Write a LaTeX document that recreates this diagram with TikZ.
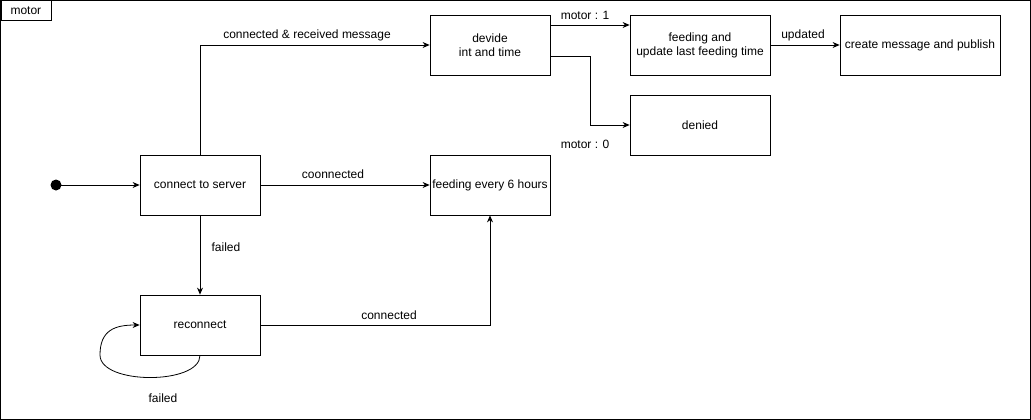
\documentclass[tikz,border=0pt]{standalone}
\usepackage{fontspec}
\setmainfont{Liberation Sans}
\usetikzlibrary{arrows.meta,positioning}
\begin{document}
\begin{tikzpicture}[x=1pt,y=-1pt,
  every node/.style={font=\fontsize{12}{14}\selectfont},
  state/.style={draw,line width=0.8pt,minimum width=120pt,minimum height=60pt,align=center,inner sep=1pt},
  conn/.style={line width=0.8pt,-{Stealth[length=7pt,width=6pt]}},
  lbl/.style={inner sep=1pt}]
\useasboundingbox (0,0) rectangle (1031,420);
\draw[line width=0.8pt] (0.5,0.5) rectangle (1030.5,419.5);
\node[draw,line width=0.8pt,minimum width=50pt,minimum height=20pt,inner sep=0pt,anchor=north west] (tab) at (0.5,0.5) {motor};
\fill (56,185) circle (5.5pt);
\coordinate (init) at (56,185);
\node[state] (conn) at (200,185) {connect to server};
\node[state] (recon) at (200,325) {reconnect};
\node[state] (devide) at (490,45) {devide\\int and time};
\node[state,minimum width=140pt] (feed) at (700,45) {feeding and\\update last feeding time};
\node[state,minimum width=160pt] (create) at (920,45) {create message and publish};
\node[state,minimum width=140pt] (denied) at (700,125) {denied};
\node[state,inner sep=0pt] (six) at (490,185) {feeding every 6 hours};
\draw[conn] (init) -- (conn.west);
\draw[conn] (conn.north) |- (devide.west);
\node[lbl] (l1) at (307,35) {connected \& received message};
\draw[conn] (devide.east |- 0,25) -- (feed.west |- 0,25);
\node[lbl] (l2) at (585,15) {motor : 1};
\draw[conn] (devide.east |- 0,56) -- (590,56) |- (denied.west);
\node[lbl] (m0) at (585,144) {motor : 0};
\draw[conn] (feed.east) -- (create.west);
\node[lbl] (l3) at (803,35) {updated};
\draw[conn] (conn.east) -- (six.west);
\node[lbl] (l4) at (333,174) {coonnected};
\draw[conn] (conn.south) -- (recon.north);
\node[lbl] (l5) at (226,247) {failed};
\draw[conn] (recon.east) -| (six.south);
\node[lbl] (l6) at (389,315) {connected};
\draw[conn] (recon.south) .. controls (200,385) and (100,385) .. (100,355) .. controls (100,330) and (115,325) .. (recon.west);
\node[lbl] (f2) at (163,398) {failed};
\end{tikzpicture}
\end{document}
